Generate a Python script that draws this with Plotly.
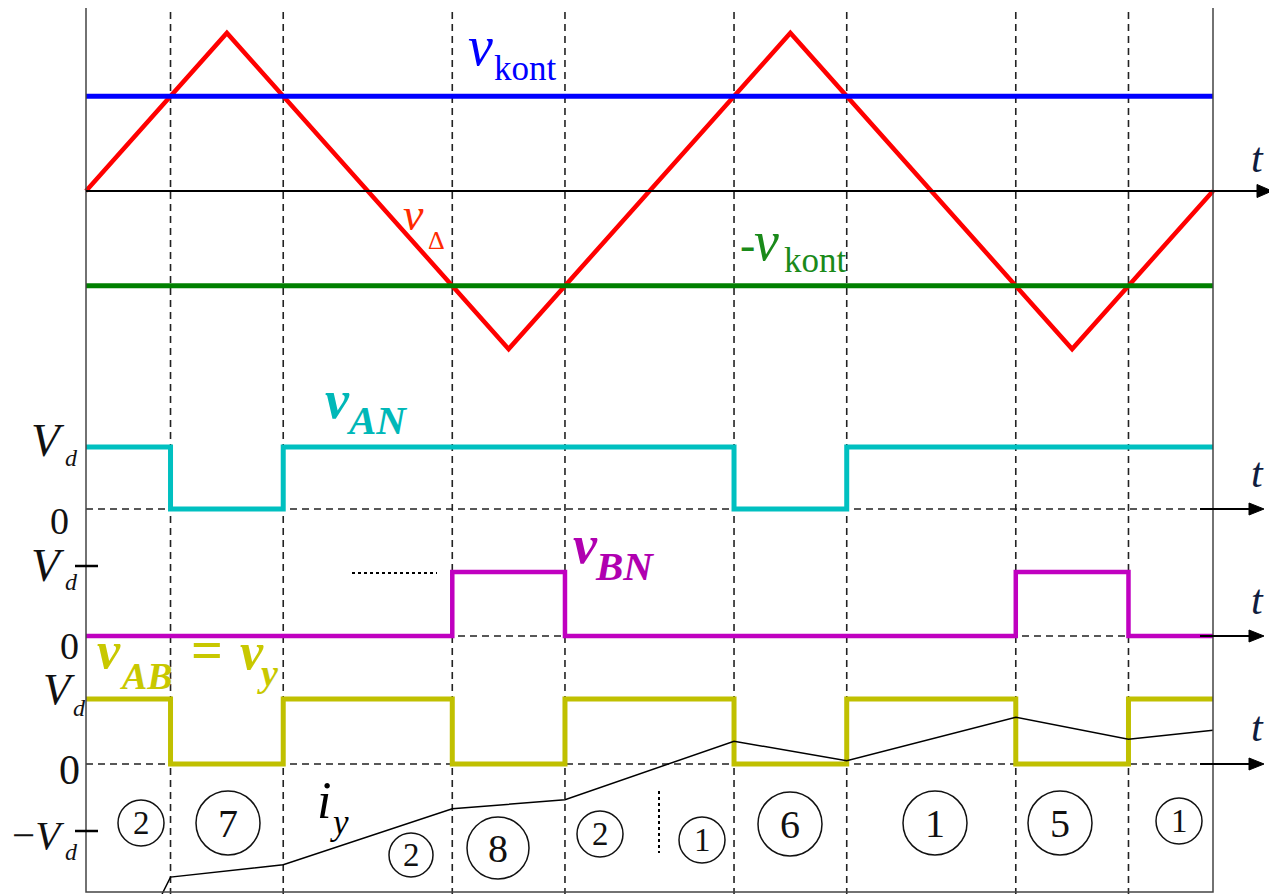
import plotly.graph_objects as go

W, H = 1277, 894
PAGE_MARGIN = 8            # default body margin of the html page
X0, X1 = 86, 1213          # pixel span of the time axis
T_END = 8.0                # time in quarter carrier periods
PX = (X1 - X0) / T_END
FONT = "Liberation Serif"

# ---- data -------------------------------------------------------------
tri_t = [0, 1, 3, 5, 7, 8]
tri_v = [0, 1, -1, 1, -1, 0]
v_kont = 0.6
switch_t = [0.6, 1.4, 2.6, 3.4, 4.6, 5.4, 6.6, 7.4]

van_t = [0, 0.6, 1.4, 4.6, 5.4, 8]
van_v = [1, 0, 1, 0, 1, 1]
vbn_t = [0, 2.6, 3.4, 6.6, 7.4, 8]
vbn_v = [0, 1, 0, 1, 0, 0]
vab_t = [0, 0.6, 1.4, 2.6, 3.4, 4.6, 5.4, 6.6, 7.4, 8]
vab_v = [1, 0, 1, 0, 1, 0, 1, 0, 1, 1]

iy_t = [0.54, 0.6, 1.4, 2.6, 3.4, 4.6, 5.4, 6.6, 7.4, 8.0]
iy_v = [-2.0, -1.74, -1.55, -0.69, -0.55, 0.35, 0.05, 0.72, 0.38, 0.52]

mode_labels = ["2", "7", "2", "8", "2", "1", "6", "1", "5", "1"]

# ---- layout helpers (panel baseline pixel, pixels per unit) -----------
P1 = (191, 158)
P2 = (509, 62)
P3 = (636, 64)
P4 = (764, 65)


def X(px):
    return (px - X0) / PX


def Y(vals, panel):
    base, amp = panel
    return [base - v * amp for v in vals]


fig = go.Figure()


def line(t, v, panel, color, width, shape="linear"):
    fig.add_trace(go.Scatter(x=t, y=Y(v, panel), mode="lines",
                             line=dict(color=color, width=width, shape=shape)))


line(tri_t, tri_v, P1, "#ff0000", 4.5)
line([0, T_END], [v_kont, v_kont], P1, "#0000ff", 5)
line([0, T_END], [-v_kont, -v_kont], P1, "#008000", 5)
line(van_t, van_v, P2, "#00c0c0", 5, "hv")
line(vbn_t, vbn_v, P3, "#c000c0", 4.5, "hv")
line(vab_t, vab_v, P4, "#c0c000", 5, "hv")
line(iy_t, iy_v, P4, "#000000", 1.5)

shapes = []
for ts in switch_t:
    shapes.append(dict(type="line", x0=ts, x1=ts, y0=0, y1=H, layer="below",
                       line=dict(color="#222", width=1.6, dash="7px,5px")))
shapes.append(dict(type="rect", x0=0, x1=T_END, y0=2, y1=892,
                   line=dict(color="#444", width=1.5)))


def axis_arrow(y, shaft_end, tip, half, dashed_to=None):
    start = X0
    if dashed_to is not None:
        shapes.append(dict(type="line", x0=0, x1=X(dashed_to), y0=y, y1=y, layer="below",
                           line=dict(color="#222", width=1.5, dash="7px,5px")))
        start = dashed_to
    shapes.append(dict(type="line", x0=X(start), x1=X(shaft_end + 2), y0=y, y1=y,
                       line=dict(color="#000", width=2)))
    shapes.append(dict(type="path", fillcolor="#000", line=dict(color="#000", width=1),
                       path=f"M {X(shaft_end)},{y - half} L {X(tip)},{y} L {X(shaft_end)},{y + half} Z"))


axis_arrow(P1[0], 1257, 1272, 6.5)
axis_arrow(P2[0], 1249, 1264, 6, dashed_to=1200)
axis_arrow(P3[0], 1249, 1264, 6, dashed_to=1200)
axis_arrow(P4[0], 1249, 1264, 6, dashed_to=1200)

# ticks at the left edge
for ty in (566, 831):
    shapes.append(dict(type="line", x0=X(75), x1=X(98), y0=ty, y1=ty,
                       line=dict(color="#000", width=2.5)))
# dotted helper lines
shapes.append(dict(type="line", x0=X(352), x1=X(437), y0=573, y1=573,
                   line=dict(color="#000", width=2, dash="dot")))
shapes.append(dict(type="line", x0=X(659), x1=X(659), y0=791, y1=853,
                   line=dict(color="#000", width=2, dash="dot")))

# circled switching states
mode_pos = [(141, 823, 23), (228, 823, 32), (411, 855, 22), (498, 848, 31),
            (600, 834, 23), (702, 840, 23), (790, 824, 32), (935, 823, 32),
            (1060, 823, 32), (1179, 821, 23)]
ann = []
for lab, (cx, cy, r) in zip(mode_labels, mode_pos):
    shapes.append(dict(type="circle", x0=X(cx - r), x1=X(cx + r), y0=cy - r, y1=cy + r,
                       line=dict(color="#111", width=1.5)))
    ann.append(dict(x=X(cx), y=cy, text=lab, showarrow=False, xanchor="center", yanchor="middle",
                    font=dict(family=FONT, size=40 if r > 28 else 33, color="#111")))


def txt(px, py, s, size, color, xa="left"):
    ann.append(dict(x=X(px), y=py, text=s, showarrow=False, xanchor=xa, yanchor="middle",
                    font=dict(family=FONT, size=size, color=color)))


# top panel labels
txt(466, 46, "<i>v</i>", 56, "#0000ff")
txt(492, 68, "kont", 35, "#0000ff")
txt(401, 214, "<i>v</i>", 46, "#ff2a00")
txt(426, 240, "Δ", 26, "#ff2a00")
txt(738, 244, "-", 46, "#1a8a1a")
txt(752, 241, "<i>v</i>", 56, "#1a8a1a")
txt(782, 260, "kont", 35, "#1a8a1a")

# waveform labels
txt(323, 400, "<b><i>v</i></b>", 54, "#00b8b8")
txt(344, 420, "<b><i>AN</i></b>", 41, "#00b8b8")
txt(571, 545, "<b><i>v</i></b>", 54, "#b000b0")
txt(593, 566, "<b><i>BN</i></b>", 41, "#b000b0")
txt(95, 650, "<b><i>v</i></b>", 52, "#c8c800")
txt(118, 676, "<b><i>AB</i></b>", 38, "#c8c800")
txt(189, 650, "<b>=</b>", 56, "#c8c800")
txt(238, 651, "<b><i>v</i></b>", 52, "#c8c800")
txt(255, 673, "<b><i>y</i></b>", 38, "#c8c800")
txt(315, 800, "<i>i</i>", 52, "#000")
txt(328, 822, "<i>y</i>", 35, "#000")

# t axis labels
for ty in (158, 473, 600, 727):
    txt(1249, ty, "<i>t</i>", 42, "#0f1c3f")

# level labels: main glyph right-anchored, subscript left-anchored
dark = "#111"
txt(67, 440, "<i>V</i>", 47, dark, "right")
txt(63, 458, "<i>d</i>", 24, dark)
txt(59, 521, "0", 38, dark, "center")
txt(67, 565, "<i>V</i>", 47, dark, "right")
txt(63, 582, "<i>d</i>", 24, dark)
txt(69, 646, "0", 38, dark, "center")
txt(77, 689, "<i>V</i>", 45, dark, "right")
txt(71, 708, "<i>d</i>", 24, dark)
txt(69, 770, "0", 42, dark, "center")
txt(66, 835, "−<i>V</i>", 41, dark, "right")
txt(63, 852, "<i>d</i>", 24, dark)

fig.update_layout(
    width=W - PAGE_MARGIN, height=H - PAGE_MARGIN,
    margin=dict(l=0, r=0, t=0, b=0),
    paper_bgcolor="white", plot_bgcolor="white",
    showlegend=False, hovermode=False,
    shapes=shapes, annotations=ann,
)
fig.update_xaxes(visible=False, range=[X(PAGE_MARGIN), X(W)])
fig.update_yaxes(visible=False, range=[H, PAGE_MARGIN])

fig.write_html("out.html")
